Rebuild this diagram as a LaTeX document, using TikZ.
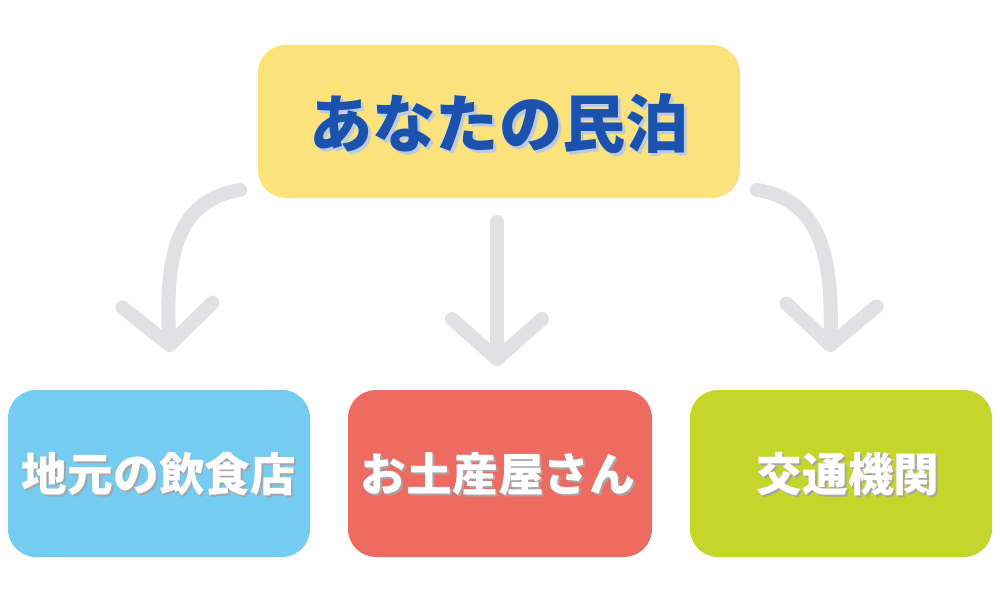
\documentclass[tikz,border=0pt]{standalone}
\usepackage{fontspec}
\newfontfamily\cjk{Noto Sans CJK JP}
\usetikzlibrary{arrows.meta}
\definecolor{topc}{HTML}{FBE27A}
\definecolor{bluec}{HTML}{74CCF0}
\definecolor{redc}{HTML}{EE6B62}
\definecolor{greenc}{HTML}{C5D62A}
\definecolor{titc}{HTML}{1A52AE}
\definecolor{arr}{HTML}{E1E1E3}
\tikzset{
  box/.style={rounded corners=0.28cm, draw=none},
  conn/.style={draw=arr, line width=0.14cm, line cap=round, line join=round,
    -{Straight Barb[length=0.4cm,width=0.9cm,line cap=round,line join=round]}},
  lab/.style={font=\cjk\bfseries\fontsize{13pt}{15pt}\selectfont, text=white},
}
\newcommand{\shtext}[3]{%
 \node[lab,text=#3!55!gray] at ([xshift=0.025cm,yshift=-0.025cm]#1) {#2};
 \node[lab] at (#1) {#2};}
\begin{document}
\begin{tikzpicture}[x=0.01cm,y=-0.01cm]
\useasboundingbox (0,0) rectangle (1000,600);
\fill[box,topc] (258,45) rectangle (740,198);
\fill[box,bluec] (8,390) rectangle (310,557);
\fill[box,redc] (348,390) rectangle (652,557);
\fill[box,greenc] (690,390) rectangle (992,557);
\coordinate (t) at (499,124);
\node[font=\cjk\bfseries\fontsize{18pt}{20pt}\selectfont, text=titc!30!white] at (502,127) {あなたの民泊};
\node (top) [font=\cjk\bfseries\fontsize{18pt}{20pt}\selectfont, text=titc] at (t) {あなたの民泊};
\coordinate (l) at (159,474);
\coordinate (m) at (498,474);
\coordinate (r) at (848,474);
\node[lab,text=gray!70] at (161,476) {地元の飲食店};
\node (n1)[lab] at (l) {地元の飲食店};
\node[lab,text=gray!70] at (500,476) {お土産屋さん};
\node (n2)[lab] at (m) {お土産屋さん};
\node[lab,text=gray!70] at (850,476) {交通機関};
\node (n3)[lab] at (r) {交通機関};
\coordinate (a1) at (240,190); \coordinate (b1) at (170,352);
\coordinate (a2) at (497,222); \coordinate (b2) at (497,366);
\coordinate (a3) at (757,190); \coordinate (b3) at (830,352);
\draw[conn] (a1) .. controls (175,200) and (165,260) .. (b1);
\draw[conn] (a2) -- (b2);
\draw[conn] (a3) .. controls (822,200) and (833,260) .. (b3);
\end{tikzpicture}
\end{document}
